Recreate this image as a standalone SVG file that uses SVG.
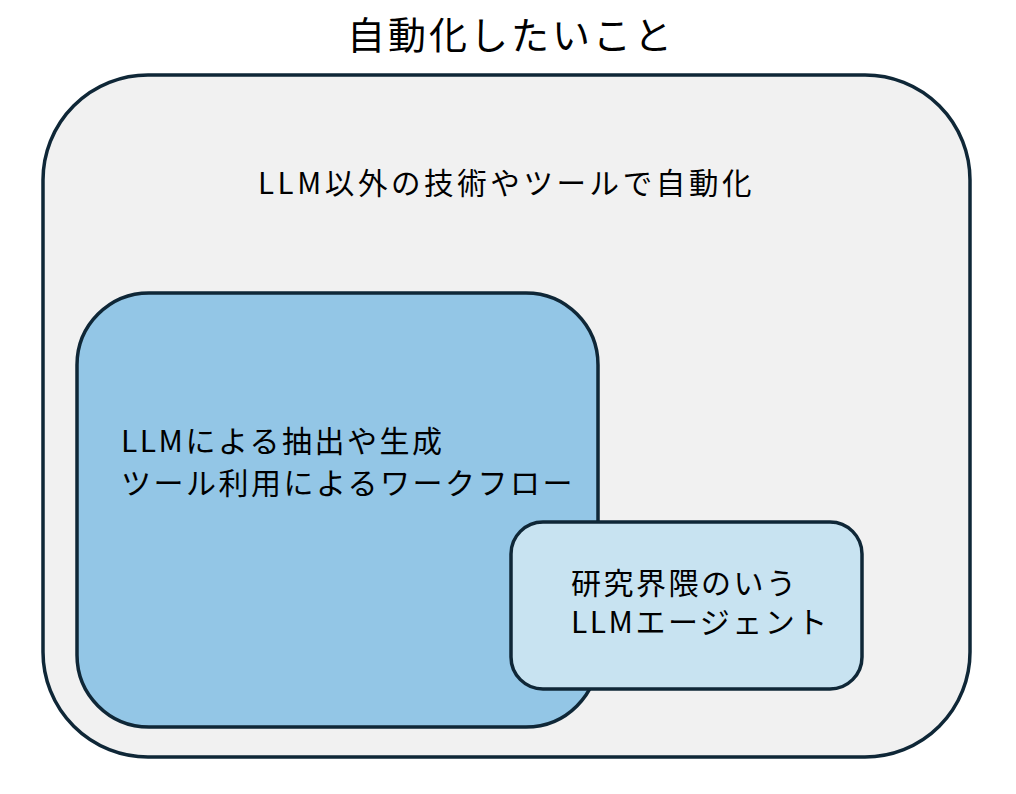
<svg xmlns="http://www.w3.org/2000/svg" width="1016" height="794" viewBox="0 0 1016 794">
<style>
.box{stroke:#0f2737;stroke-width:3.5}
.t{font-family:"Noto Sans CJK JP","Noto Sans",sans-serif;fill:#000}
.m{font-size:30px;letter-spacing:2.5px}
</style>
<rect width="1016" height="794" fill="#ffffff"/>
<g id="title"><text class="t" x="347" y="49" font-size="38" letter-spacing="3">自動化したいこと</text></g>
<g id="outer">
<rect class="box" x="43" y="75" width="927" height="682" rx="105" ry="105" fill="#f1f1f1"/>
<text class="t" x="258" y="194" font-size="29.5" letter-spacing="3.6">LLM以外の技術やツールで自動化</text>
</g>
<g id="workflow">
<rect class="box" x="77" y="293" width="521" height="434" rx="72" ry="72" fill="#93c6e6"/>
<text class="t m" x="121" y="452">LLMによる抽出や生成</text>
<text class="t m" x="121" y="494">ツール利用によるワークフロー</text>
</g>
<g id="agent">
<rect class="box" x="511" y="522" width="351" height="167" rx="32" ry="32" fill="#c8e3f1"/>
<text class="t m" x="571" y="594">研究界隈のいう</text>
<text class="t m" x="571" y="633">LLMエージェント</text>
</g>
<g id="connectors"></g>
</svg>
